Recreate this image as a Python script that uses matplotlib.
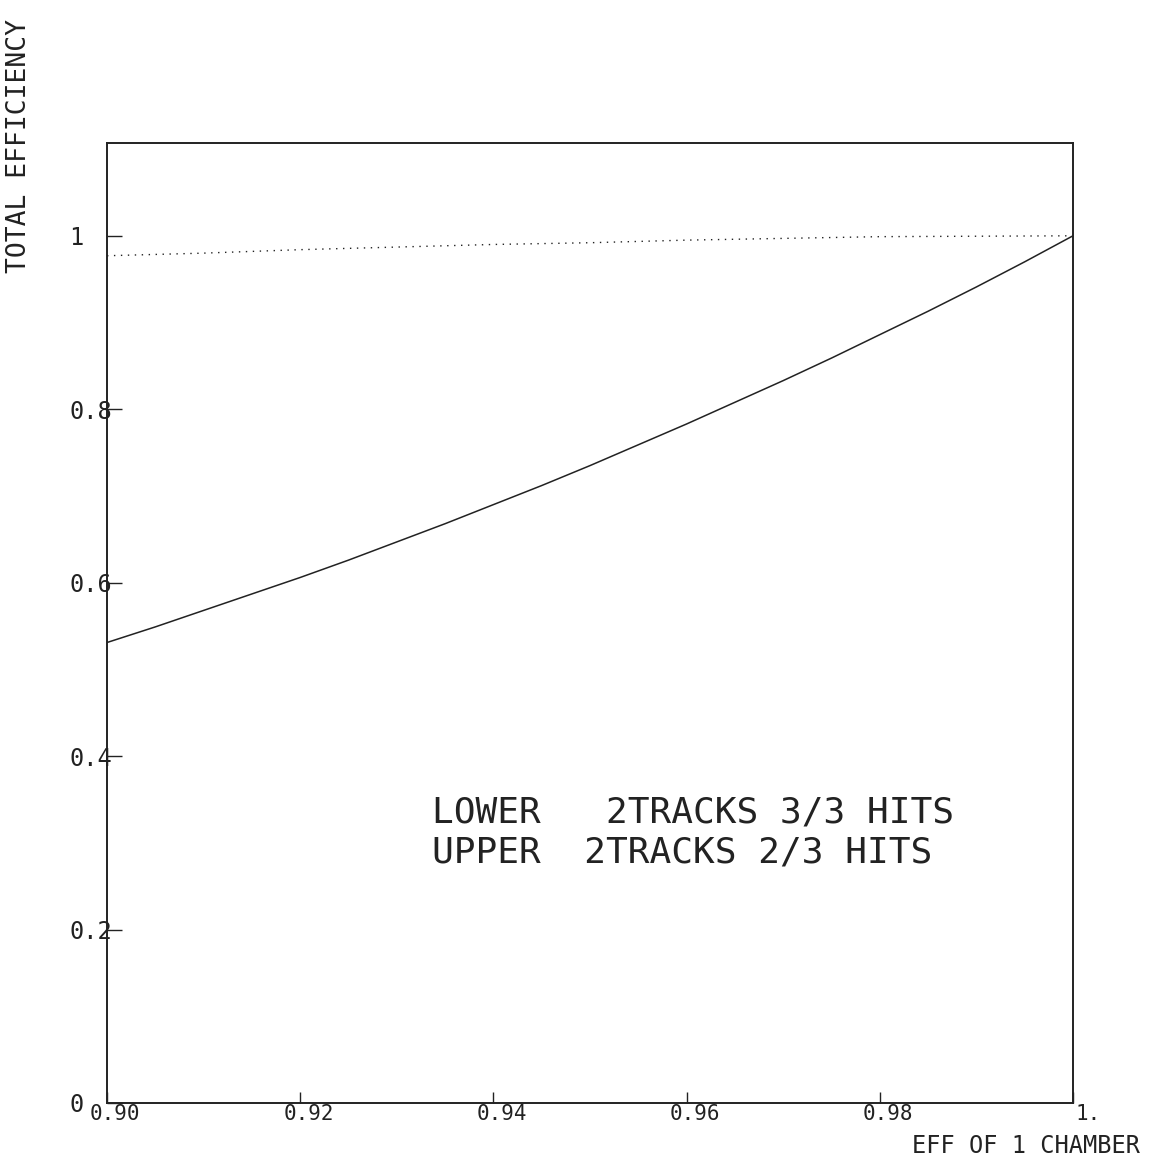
import matplotlib
matplotlib.use("Agg")
import matplotlib.pyplot as plt
import matplotlib.transforms as mtrans

# ---- data ----
x_lower = [0.900, 0.905, 0.910, 0.915, 0.920, 0.925, 0.930, 0.935, 0.940, 0.945,
           0.950, 0.955, 0.960, 0.965, 0.970, 0.975, 0.980, 0.985, 0.990, 0.995, 1.000]
y_lower = [0.531, 0.549, 0.568, 0.587, 0.606, 0.626, 0.647, 0.668, 0.690, 0.712,
           0.735, 0.759, 0.783, 0.808, 0.833, 0.859, 0.886, 0.913, 0.941, 0.970, 1.000]

x_upper = [0.90, 0.91, 0.92, 0.93, 0.94, 0.95, 0.96, 0.97, 0.98, 0.99, 1.00]
y_upper = [0.977, 0.980, 0.984, 0.987, 0.990, 0.992, 0.995, 0.997, 0.999, 0.9995, 1.000]

x_ticks = [0.90, 0.92, 0.94, 0.96, 0.98, 1.00]
x_tick_labels = ["0.90", "0.92", "0.94", "0.96", "0.98", "1."]
y_ticks = [0.0, 0.2, 0.4, 0.6, 0.8, 1.0]
y_tick_labels = ["0", "0.2", "0.4", "0.6", "0.8", "1"]

legend_lines = ["LOWER   2TRACKS 3/3 HITS", "UPPER  2TRACKS 2/3 HITS"]
x_label = "EFF OF 1 CHAMBER"
y_label = "TOTAL EFFICIENCY"

plt.rcParams['font.family'] = ['DejaVu Sans Mono', 'DejaVu Sans']
ink = '#222222'

fig = plt.figure(figsize=(11.6, 11.58), dpi=100)
ax = fig.add_axes([107/1160, 1 - 1103/1158, (1073-107)/1160, (1103-143)/1158])

ax.plot(x_lower, y_lower, color=ink, lw=1.1)
ax.plot(x_upper, y_upper, color=ink, lw=1.0, linestyle=(0, (1, 4)))

ax.set_xlim(0.90, 1.00)
ax.set_ylim(0.0, 1.107)

for s in ax.spines.values():
    s.set_color(ink)
    s.set_linewidth(1.4)

ax.set_xticks(x_ticks)
ax.set_xticklabels(x_tick_labels)
ax.set_yticks(y_ticks)
ax.set_yticklabels(y_tick_labels)
ax.tick_params(axis='x', direction='in', length=8, width=1, color=ink,
               labelsize=15, labelcolor=ink, pad=1)
ax.tick_params(axis='y', direction='in', length=11, width=1, color=ink,
               labelsize=17, labelcolor=ink, pad=27)

xlabs = ax.get_xticklabels()
for i, lab in enumerate(xlabs):
    dx = 2 if i == len(xlabs) - 1 else -17
    lab.set_horizontalalignment('left')
    lab.set_transform(lab.get_transform() +
                      mtrans.ScaledTranslation(dx/100, 0, fig.dpi_scale_trans))
for lab in ax.get_yticklabels():
    lab.set_horizontalalignment('left')

legend_y = [0.324, 0.2768]
for line, yy in zip(legend_lines, legend_y):
    ax.text(0.9336, yy, line, fontsize=26, color=ink,
            ha='left', va='baseline')

fig.text(1140/1160, 1 - 1153/1158, x_label, fontsize=17, color=ink,
         ha='right', va='baseline')
fig.text(6/1160, 1 - 146/1158, y_label, fontsize=19, color=ink,
         rotation=90, ha='left', va='center')

fig.savefig("out.png", dpi=100)
